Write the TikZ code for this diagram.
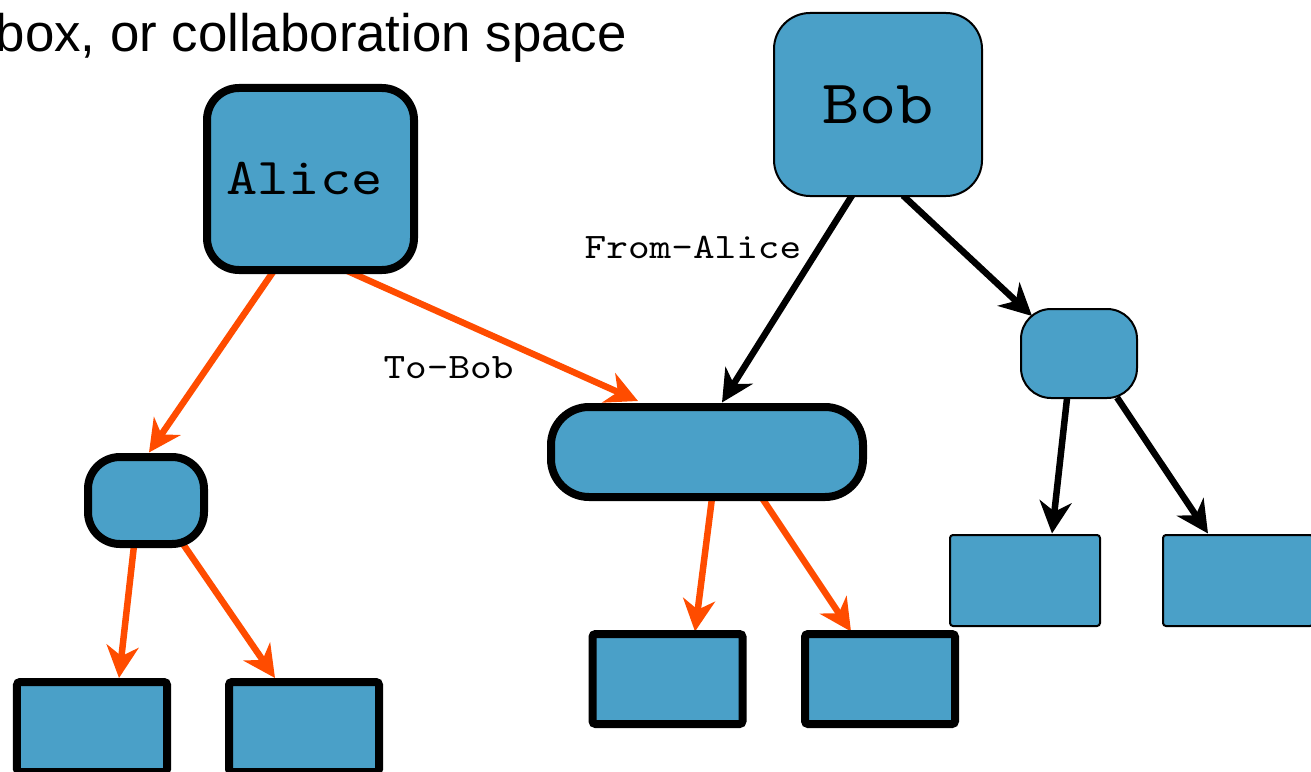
\documentclass[tikz,border=0pt]{standalone}
\usepackage{fontspec}
\setmainfont{Liberation Sans}
% slab-serif typewriter face, widened to a Courier-like advance
\newfontfamily\codefont[FakeStretch=1.15]{lmmono10-regular.otf}
\usetikzlibrary{arrows.meta,calc,backgrounds}

\definecolor{nodeblue}{RGB}{74,160,200}
\definecolor{linkorange}{RGB}{255,76,0}

\begin{document}
\begin{tikzpicture}[x=1bp,y=-1bp,
  box/.style={draw=black, fill=nodeblue, inner sep=0pt, outer sep=0pt},
  heavy/.style={box, line width=8bp},
  light/.style={box, line width=2bp},
  leaf/.style={minimum width=150bp, minimum height=90bp, rounded corners=3bp},
  link/.style={line width=6.5bp, -{Stealth[length=32bp,width=32bp,inset=10bp]}},
  ownlink/.style={link, draw=linkorange},
  peerlink/.style={link, draw=black},
  lbl/.style={font=\codefont\fontsize{36}{36}\selectfont, inner sep=0pt}
]
\useasboundingbox (0,0) rectangle (1311,771);

% heading
\node[anchor=base east, inner sep=0pt, font=\fontsize{53}{53}\selectfont] (title) at (627,52) {box, or collaboration space};

% Alice's tree
\node[heavy, minimum width=207bp, minimum height=182bp, rounded corners=32bp] (alice) at (310.5,179)
  {\raisebox{-2bp}{\codefont\fontsize{52}{52}\selectfont Alice}\hspace*{12bp}};
\node[heavy, minimum width=116bp, minimum height=87bp, rounded corners=32bp] (lm) at (146,500.5) {};
\node[heavy, leaf] (r1) at (92,727) {};
\node[heavy, leaf] (r2) at (304,727) {};

% shared subtree
\node[heavy, minimum width=312bp, minimum height=90bp, rounded corners=38bp] (pill) at (707,452) {};
\node[heavy, leaf] (r3) at (667.5,679) {};
\node[heavy, leaf] (r4) at (880,679) {};

% Bob's tree
\node[light, minimum width=208bp, minimum height=183bp, rounded corners=36bp] (bob) at (878,104.5)
  {\raisebox{-3bp}{\codefont\fontsize{62}{62}\selectfont Bob}};
\node[light, minimum width=116bp, minimum height=89bp, rounded corners=30bp] (rs) at (1079,353.5) {};
\node[light, leaf, minimum height=91bp] (r5) at (1025,580.5) {};
\node[light, leaf, minimum height=91bp] (r6) at (1238,580.5) {};

% edge labels
\node[lbl] (tobob) at (448.5,367.5) {To-Bob};
\node[lbl] (fromalice) at (693,247.5) {From-Alice};

\begin{pgfonlayer}{background}
  \draw[ownlink] ($(alice.center)+(-37.5,93)$) -- ($(lm.center)+(3,-48)$);
  \draw[ownlink] ($(alice.center)+(37,92)$) -- ($(pill.center)+(-69,-51)$);
  \draw[ownlink] ($(lm.center)+(-12,45)$) -- ($(r1.center)+(27,-49)$);
  \draw[ownlink] ($(lm.center)+(36,42)$) -- ($(r2.center)+(-29,-49)$);
  \draw[ownlink] ($(pill.center)+(5,46)$) -- ($(r3.center)+(27.5,-47.5)$);
  \draw[ownlink] ($(pill.center)+(55,46)$) -- ($(r4.center)+(-29,-47.5)$);
  \draw[peerlink] ($(bob.center)+(-26,91)$) -- ($(pill.center)+(15,-49.5)$);
  \draw[peerlink] ($(bob.center)+(25,91)$) -- ($(rs.center)+(-47,-37.5)$);
  \draw[peerlink] ($(rs.center)+(-12,45)$) -- ($(r5.center)+(27,-47)$);
  \draw[peerlink] ($(rs.center)+(38,44)$) -- ($(r6.center)+(-30,-47)$);
\end{pgfonlayer}
\end{tikzpicture}
\end{document}
